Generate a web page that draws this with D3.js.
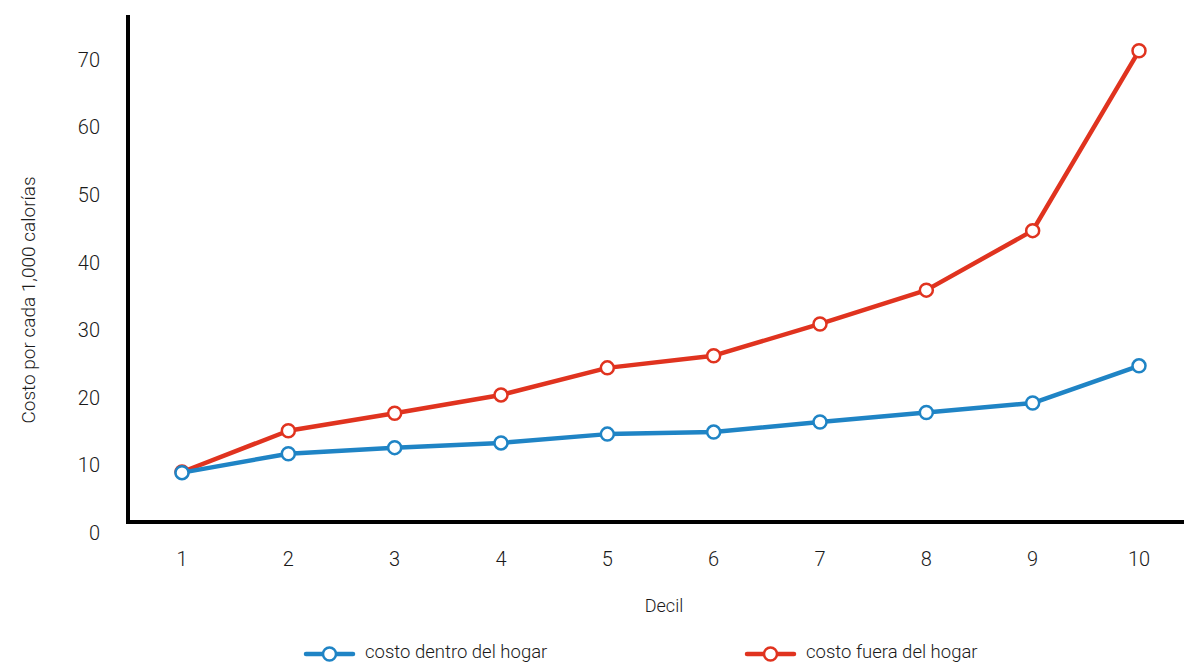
<!DOCTYPE html>
<html>
<head>
<meta charset="utf-8">
<script src="https://cdn.jsdelivr.net/npm/d3@7"></script>
<style>
  body { margin: 0; background: #fff; }
  text { font-family: Roboto, "Noto Sans", sans-serif; fill: #1a1a1a; }
</style>
</head>
<body>
<main></main>
<script>
const deciles = [1, 2, 3, 4, 5, 6, 7, 8, 9, 10];
const dentroHogar = [7.3, 10.1, 11.0, 11.7, 13.0, 13.3, 14.8, 16.2, 17.6, 23.1];
const fueraHogar = [7.4, 13.5, 16.1, 18.8, 22.8, 24.6, 29.3, 34.3, 43.1, 69.7];
const yTicks = [0, 10, 20, 30, 40, 50, 60, 70];
const seriesNames = ["costo dentro del hogar", "costo fuera del hogar"];

const width = 1184;
const height = 664;
const plotLeft = 128, plotRight = 1184, plotTop = 15, plotBottom = 522;
const blue = "#1f84c5";
const red = "#e0331f";

const svg = d3.select("main")
    .append("svg")
    .attr("width", width)
    .attr("height", height);

const xScale = d3.scaleLinear()
    .domain([1, 10])
    .range([182, 1139]);

const yScale = d3.scaleLinear()
    .domain([0, 75])
    .range([plotBottom, plotTop]);

// y tick labels (sit a bit below their tick, like the original)
svg.append("g")
    .selectAll("text")
    .data(yTicks)
    .enter()
    .append("text")
    .attr("x", 100)
    .attr("y", d => yScale(d) + 11)
    .attr("dy", "0.35em")
    .attr("text-anchor", "end")
    .style("font-size", "20px")
    .style("font-weight", 300)
    .text(d => d);

// x tick labels
svg.append("g")
    .selectAll("text")
    .data(deciles)
    .enter()
    .append("text")
    .attr("x", d => xScale(d))
    .attr("y", 559)
    .attr("dy", "0.35em")
    .attr("text-anchor", "middle")
    .style("font-size", "20px")
    .style("font-weight", 300)
    .text(d => d);

// axis lines
svg.append("line")
    .attr("x1", plotLeft).attr("x2", plotLeft)
    .attr("y1", plotTop).attr("y2", plotBottom + 2)
    .attr("stroke", "#000").attr("stroke-width", 4);

svg.append("line")
    .attr("x1", plotLeft - 2).attr("x2", plotRight)
    .attr("y1", plotBottom).attr("y2", plotBottom)
    .attr("stroke", "#000").attr("stroke-width", 4);

// axis titles
svg.append("text")
    .attr("transform", `translate(28, 300) rotate(-90)`)
    .attr("dy", "0.35em")
    .attr("text-anchor", "middle")
    .style("font-size", "19px")
    .style("font-weight", 300)
    .text("Costo por cada 1,000 calorías");

svg.append("text")
    .attr("x", 664)
    .attr("y", 606)
    .attr("dy", "0.35em")
    .attr("text-anchor", "middle")
    .style("font-size", "18px")
    .style("font-weight", 300)
    .text("Decil");

const line = d3.line()
    .x((d, i) => xScale(deciles[i]))
    .y(d => yScale(d));

function drawSeries(values, color) {
    svg.append("path")
        .datum(values)
        .attr("fill", "none")
        .attr("stroke", color)
        .attr("stroke-width", 4.5)
        .attr("stroke-linejoin", "round")
        .attr("d", line);

    svg.append("g")
        .selectAll("circle")
        .data(values)
        .enter()
        .append("circle")
        .attr("cx", (d, i) => xScale(deciles[i]))
        .attr("cy", d => yScale(d))
        .attr("r", 6.5)
        .attr("fill", "#fff")
        .attr("stroke", color)
        .attr("stroke-width", 2.5);
}

drawSeries(fueraHogar, red);
drawSeries(dentroHogar, blue);

// legend
const legendItems = [
    { name: seriesNames[0], color: blue, x: 306 },
    { name: seriesNames[1], color: red, x: 747 }
];

const legend = svg.append("g");
legendItems.forEach(item => {
    legend.append("line")
        .attr("x1", item.x).attr("x2", item.x + 47)
        .attr("y1", 654).attr("y2", 654)
        .attr("stroke", item.color)
        .attr("stroke-width", 4.5)
        .attr("stroke-linecap", "round");
    legend.append("circle")
        .attr("cx", item.x + 23.5)
        .attr("cy", 654)
        .attr("r", 6.5)
        .attr("fill", "#fff")
        .attr("stroke", item.color)
        .attr("stroke-width", 2.5);
    legend.append("text")
        .attr("x", item.x + 59)
        .attr("y", 652)
        .attr("dy", "0.35em")
        .style("font-size", "18.5px")
        .style("font-weight", 300)
        .text(item.name);
});
</script>
</body>
</html>
